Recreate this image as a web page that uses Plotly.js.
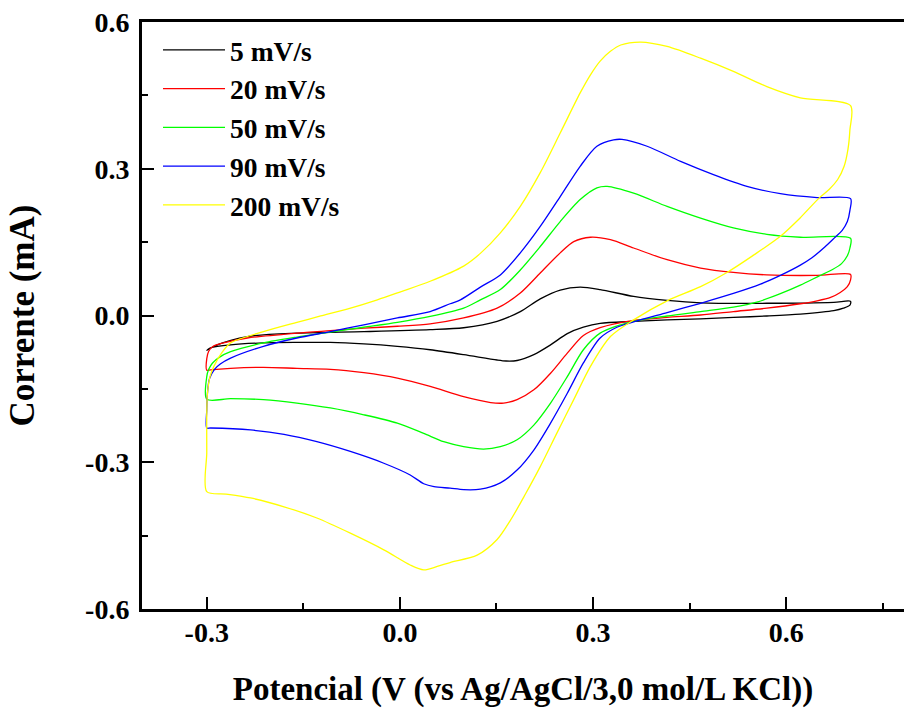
<!DOCTYPE html>
<html><head><meta charset="utf-8">
<script src="https://cdn.plot.ly/plotly-3.0.1.min.js"></script>
<style>html,body{margin:0;padding:0;background:#fff}#chart{width:904px;height:708px}</style>
</head><body><div id="chart"></div>
<script>
const seriesNames = ['5 mV/s', '20 mV/s', '50 mV/s', '90 mV/s', '200 mV/s'];
const seriesColors = ['#000000', '#ff0000', '#00ff00', '#0000ff', '#ffff00'];

const v5 = [-0.300,-0.284,-0.237,-0.160,-0.056,0.047,0.099,0.151,0.187,0.218,0.249,0.280,0.311,0.363,0.415,0.467,0.570,0.674,0.700,
  0.699,0.689,0.674,0.622,0.570,0.518,0.467,0.415,0.363,0.311,0.285,0.260,0.234,0.208,0.182,0.165,0.151,0.099,0.047,-0.004,-0.056,-0.108,-0.160,-0.212,-0.263,-0.294,-0.300];
const i5 = [-0.071,-0.060,-0.043,-0.036,-0.033,-0.029,-0.025,-0.012,0.008,0.034,0.052,0.058,0.053,0.039,0.031,0.026,0.025,0.027,0.029,
  0.021,0.015,0.010,0.003,-0.001,-0.004,-0.007,-0.009,-0.012,-0.016,-0.024,-0.037,-0.060,-0.080,-0.092,-0.093,-0.091,-0.080,-0.070,-0.063,-0.058,-0.055,-0.055,-0.056,-0.060,-0.066,-0.071];

const v20 = [-0.300,-0.300,-0.297,-0.290,-0.274,-0.237,-0.160,-0.108,-0.056,-0.004,0.047,0.099,0.151,0.187,0.218,0.249,0.270,0.296,0.327,0.363,0.415,0.467,0.518,0.570,0.648,0.700,
  0.700,0.695,0.684,0.669,0.648,0.622,0.570,0.518,0.467,0.415,0.363,0.311,0.285,0.260,0.234,0.208,0.182,0.161,0.141,0.099,0.047,-0.004,-0.056,-0.108,-0.160,-0.212,-0.263,-0.294,-0.300];
const i20 = [-0.112,-0.088,-0.073,-0.063,-0.056,-0.046,-0.036,-0.031,-0.026,-0.022,-0.017,-0.005,0.015,0.046,0.087,0.128,0.151,0.160,0.155,0.138,0.114,0.097,0.088,0.083,0.082,0.084,
  0.073,0.059,0.047,0.037,0.030,0.024,0.015,0.008,0.001,-0.004,-0.010,-0.025,-0.041,-0.077,-0.118,-0.152,-0.172,-0.179,-0.178,-0.166,-0.145,-0.128,-0.117,-0.110,-0.108,-0.106,-0.108,-0.111,-0.112];

const v50 = [-0.300,-0.300,-0.297,-0.291,-0.280,-0.263,-0.212,-0.160,-0.108,-0.056,-0.004,0.047,0.099,0.125,0.156,0.187,0.218,0.249,0.280,0.306,0.322,0.363,0.415,0.467,0.518,0.570,0.622,0.700,
  0.699,0.695,0.686,0.672,0.650,0.622,0.590,0.556,0.518,0.467,0.415,0.363,0.311,0.285,0.260,0.234,0.208,0.182,0.156,0.130,0.099,0.068,0.037,-0.004,-0.056,-0.108,-0.160,-0.212,-0.263,-0.300];
const i50 = [-0.171,-0.125,-0.110,-0.097,-0.085,-0.074,-0.056,-0.044,-0.034,-0.024,-0.014,-0.002,0.015,0.032,0.053,0.093,0.141,0.192,0.237,0.261,0.264,0.250,0.223,0.199,0.179,0.166,0.160,0.158,
  0.138,0.122,0.106,0.094,0.080,0.062,0.044,0.028,0.017,0.008,-0.001,-0.012,-0.036,-0.070,-0.125,-0.179,-0.224,-0.254,-0.268,-0.273,-0.268,-0.258,-0.241,-0.220,-0.203,-0.189,-0.179,-0.172,-0.170,-0.171];

const v90 = [-0.300,-0.300,-0.299,-0.296,-0.288,-0.279,-0.263,-0.212,-0.160,-0.108,-0.056,-0.004,0.047,0.078,0.094,0.125,0.156,0.187,0.218,0.249,0.280,0.306,0.332,0.345,0.384,0.436,0.487,0.539,0.591,0.648,0.700,
  0.699,0.695,0.687,0.676,0.660,0.640,0.622,0.591,0.560,0.518,0.467,0.415,0.363,0.337,0.311,0.285,0.260,0.234,0.208,0.182,0.156,0.125,0.099,0.078,0.053,0.037,0.016,-0.025,-0.077,-0.129,-0.180,-0.232,-0.294,-0.300];
const i90 = [-0.230,-0.193,-0.160,-0.130,-0.110,-0.099,-0.087,-0.063,-0.046,-0.033,-0.019,-0.005,0.008,0.024,0.032,0.058,0.083,0.128,0.182,0.243,0.305,0.346,0.359,0.360,0.346,0.315,0.288,0.264,0.249,0.241,0.239,
  0.215,0.192,0.174,0.160,0.140,0.118,0.103,0.082,0.064,0.045,0.025,0.006,-0.013,-0.024,-0.046,-0.097,-0.159,-0.220,-0.275,-0.316,-0.342,-0.355,-0.356,-0.353,-0.350,-0.344,-0.326,-0.302,-0.278,-0.258,-0.243,-0.234,-0.230,-0.230];

const v200 = [-0.300,-0.300,-0.300,-0.299,-0.295,-0.289,-0.276,-0.263,-0.212,-0.160,-0.123,-0.082,-0.035,0.000,0.047,0.099,0.125,0.156,0.187,0.218,0.249,0.280,0.296,0.311,0.327,0.343,0.374,0.415,0.467,0.518,0.570,0.622,0.700,
  0.699,0.696,0.690,0.680,0.667,0.651,0.622,0.591,0.550,0.508,0.467,0.415,0.363,0.327,0.296,0.270,0.244,0.218,0.195,0.172,0.151,0.120,0.078,0.058,0.037,0.016,-0.025,-0.077,-0.129,-0.180,-0.232,-0.270,-0.300];
const i200 = [-0.360,-0.280,-0.200,-0.160,-0.125,-0.104,-0.075,-0.056,-0.033,-0.014,-0.001,0.013,0.032,0.048,0.070,0.101,0.127,0.169,0.223,0.292,0.373,0.455,0.492,0.520,0.540,0.553,0.559,0.550,0.526,0.499,0.468,0.445,0.429,
  0.380,0.340,0.305,0.278,0.258,0.240,0.200,0.162,0.124,0.088,0.059,0.030,-0.009,-0.043,-0.104,-0.172,-0.240,-0.309,-0.365,-0.418,-0.458,-0.490,-0.505,-0.513,-0.520,-0.510,-0.479,-0.445,-0.414,-0.391,-0.373,-0.365,-0.360];

const xTickVals = [-0.3, 0.0, 0.3, 0.6];
const xTickText = ['-0.3', '0.0', '0.3', '0.6'];
const yTickVals = [-0.6, -0.3, 0.0, 0.3, 0.6];
const yTickText = ['-0.6', '-0.3', '0.0', '0.3', '0.6'];

const xs = [v5, v20, v50, v90, v200];
const ys = [i5, i20, i50, i90, i200];

const traces = seriesNames.map((n, k) => ({
  type: 'scatter', mode: 'lines', name: n,
  x: xs[k], y: ys[k],
  line: {color: seriesColors[k], width: 1.3, shape: 'spline', smoothing: 0.8}
}));

const F = 'Liberation Serif, Times New Roman, serif';
const layout = {
  width: 904, height: 708,
  margin: {l: 142, r: 0, t: 22, b: 99},
  paper_bgcolor: '#fff', plot_bgcolor: '#fff',
  showlegend: true,
  legend: {
    x: 0.021, y: 0.994, xanchor: 'left', yanchor: 'top',
    bgcolor: 'rgba(0,0,0,0)', borderwidth: 0,
    font: {family: F, size: 27.5, color: '#000', weight: 'bold'},
    itemwidth: 62, tracegroupgap: 0
  },
  xaxis: {
    range: [-0.4006, 0.7830], autorange: false,
    tickmode: 'array', tickvals: xTickVals, ticktext: xTickText,
    ticks: 'inside', ticklen: 12, tickwidth: 2, tickcolor: '#000',
    minor: {ticks: 'inside', ticklen: 6, tickwidth: 2, tickcolor: '#000', tickmode: 'linear', tick0: 0, dtick: 0.15, showgrid: false},
    showline: true, linewidth: 3, linecolor: '#000', mirror: true,
    showgrid: false, zeroline: false,
    tickfont: {family: F, size: 28, color: '#000', weight: 'bold'},
    ticklabelstandoff: -4,
    title: {text: 'Potencial (V (vs Ag/AgCl/3,0 mol/L KCl))', font: {family: F, size: 33, color: '#000', weight: 'bold'}, standoff: 32}
  },
  yaxis: {
    range: [-0.6, 0.6], autorange: false,
    tickmode: 'array', tickvals: yTickVals, ticktext: yTickText,
    ticks: 'inside', ticklen: 12, tickwidth: 2, tickcolor: '#000',
    minor: {ticks: 'inside', ticklen: 6, tickwidth: 2, tickcolor: '#000', tickmode: 'linear', tick0: 0, dtick: 0.15, showgrid: false},
    showline: true, linewidth: 3, linecolor: '#000', mirror: false,
    showgrid: false, zeroline: false,
    tickfont: {family: F, size: 28, color: '#000', weight: 'bold'},
    ticklabelstandoff: 4,
    title: {text: 'Corrente (mA)', font: {family: F, size: 35, color: '#000', weight: 'bold'}, standoff: 40}
  }
};

Plotly.newPlot('chart', traces, layout, {displayModeBar: false, staticPlot: true});
</script>
</body></html>
